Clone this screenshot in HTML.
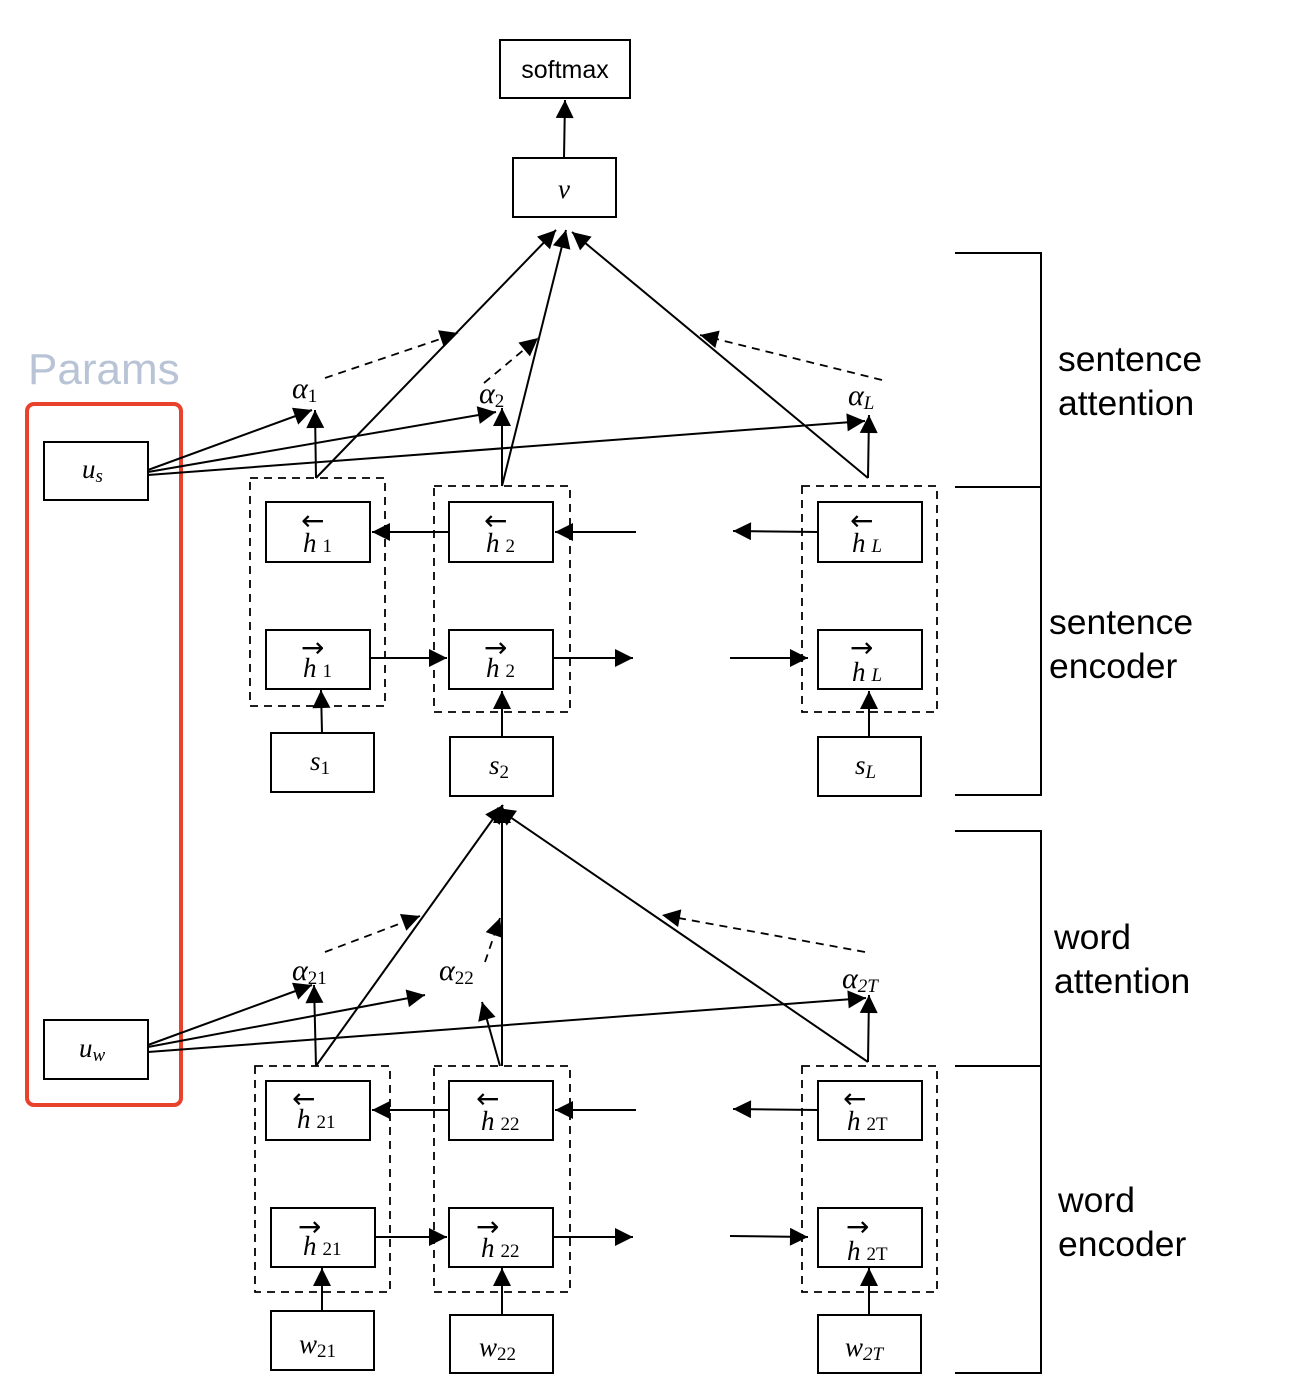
<!DOCTYPE html>
<html><head><meta charset="utf-8"><style>
body{margin:0;background:#fff}
svg{display:block}
.m{font-family:"Liberation Serif",serif;font-style:italic;font-size:27px}
.a{font-family:"Liberation Serif",serif;font-style:italic;font-size:30px}
.s{font-family:"Liberation Serif",serif;font-style:normal;font-size:19px}
.si{font-family:"Liberation Serif",serif;font-style:italic;font-size:19px}
.l{font-family:"Liberation Sans",sans-serif;font-size:35.5px}
</style></head><body>
<svg width="1302" height="1400" viewBox="0 0 1302 1400" xmlns="http://www.w3.org/2000/svg">
<defs><marker id="b" viewBox="0 0 10 10" refX="10" refY="5" markerWidth="20" markerHeight="18" markerUnits="userSpaceOnUse" orient="auto"><path d="M0,0 L10,5 L0,10 z" fill="#000"/></marker></defs>
<g fill="none" stroke="#000" stroke-width="2">
<rect x="500" y="40" width="130" height="58"/>
<rect x="513" y="158" width="103" height="59"/>
<rect x="266" y="502" width="104" height="60"/><rect x="266" y="630" width="104" height="59"/>
<rect x="449" y="502" width="104" height="60"/><rect x="449" y="630" width="104" height="59"/>
<rect x="818" y="502" width="104" height="60"/><rect x="818" y="630" width="104" height="59"/>
<rect x="271" y="733" width="103" height="59"/><rect x="450" y="737" width="103" height="59"/><rect x="818" y="737" width="103" height="59"/>
<rect x="44" y="442" width="104" height="58"/><rect x="44" y="1020" width="104" height="59"/>
<rect x="266" y="1081" width="104" height="59"/><rect x="271" y="1208" width="104" height="59"/>
<rect x="449" y="1081" width="104" height="59"/><rect x="449" y="1208" width="104" height="59"/>
<rect x="818" y="1081" width="104" height="59"/><rect x="818" y="1208" width="104" height="59"/>
<rect x="271" y="1311" width="103" height="59"/><rect x="450" y="1315" width="103" height="58"/><rect x="818" y="1315" width="103" height="58"/>
</g>
<g fill="none" stroke="#000" stroke-width="1.8" stroke-dasharray="8,6">
<rect x="250" y="478" width="135" height="228"/><rect x="434" y="486" width="136" height="226"/><rect x="802" y="486" width="135" height="226"/>
<rect x="255" y="1066" width="135" height="226"/><rect x="434" y="1066" width="136" height="226"/><rect x="802" y="1066" width="135" height="226"/>
<line x1="325" y1="378" x2="458" y2="333" marker-end="url(#b)"/>
<line x1="484" y1="383" x2="538" y2="338" marker-end="url(#b)"/>
<line x1="882" y1="380" x2="700" y2="335" marker-end="url(#b)"/>
<line x1="325" y1="952" x2="420" y2="916" marker-end="url(#b)"/>
<line x1="485" y1="962" x2="500" y2="918" marker-end="url(#b)"/>
<line x1="865" y1="952" x2="662" y2="915" marker-end="url(#b)"/>
</g>
<rect x="27" y="404" width="154" height="701" rx="7" fill="none" stroke="#e8412c" stroke-width="4"/>
<g stroke="#000" stroke-width="2" fill="none">
<line x1="564" y1="158" x2="565" y2="100" marker-end="url(#b)"/>
<line x1="316" y1="478" x2="556" y2="230" marker-end="url(#b)"/>
<line x1="502" y1="486" x2="566" y2="230" marker-end="url(#b)"/>
<line x1="868" y1="478" x2="572" y2="232" marker-end="url(#b)"/>
<line x1="316" y1="478" x2="315" y2="410" marker-end="url(#b)"/>
<line x1="502" y1="486" x2="502" y2="408" marker-end="url(#b)"/>
<line x1="868" y1="478" x2="869" y2="415" marker-end="url(#b)"/>
<line x1="148" y1="470" x2="312" y2="410" marker-end="url(#b)"/>
<line x1="148" y1="472" x2="496" y2="412" marker-end="url(#b)"/>
<line x1="148" y1="475" x2="865" y2="421" marker-end="url(#b)"/>
<line x1="449" y1="532" x2="372" y2="532" marker-end="url(#b)"/>
<line x1="636" y1="532" x2="555" y2="532" marker-end="url(#b)"/>
<line x1="818" y1="532" x2="733" y2="531" marker-end="url(#b)"/>
<line x1="370" y1="658" x2="447" y2="658" marker-end="url(#b)"/>
<line x1="553" y1="658" x2="633" y2="658" marker-end="url(#b)"/>
<line x1="730" y1="658" x2="808" y2="658" marker-end="url(#b)"/>
<line x1="322" y1="733" x2="321" y2="690" marker-end="url(#b)"/>
<line x1="502" y1="737" x2="502" y2="691" marker-end="url(#b)"/>
<line x1="869" y1="737" x2="869" y2="691" marker-end="url(#b)"/>
<line x1="316" y1="1066" x2="503" y2="805" marker-end="url(#b)"/>
<line x1="502" y1="1066" x2="502" y2="805" marker-end="url(#b)"/>
<line x1="868" y1="1062" x2="497" y2="808" marker-end="url(#b)"/>
<line x1="316" y1="1066" x2="314" y2="985" marker-end="url(#b)"/>
<line x1="500" y1="1066" x2="482" y2="1002" marker-end="url(#b)"/>
<line x1="868" y1="1062" x2="869" y2="995" marker-end="url(#b)"/>
<line x1="148" y1="1045" x2="312" y2="985" marker-end="url(#b)"/>
<line x1="148" y1="1047" x2="425" y2="995" marker-end="url(#b)"/>
<line x1="148" y1="1052" x2="866" y2="998" marker-end="url(#b)"/>
<line x1="449" y1="1110" x2="372" y2="1110" marker-end="url(#b)"/>
<line x1="636" y1="1110" x2="555" y2="1110" marker-end="url(#b)"/>
<line x1="818" y1="1110" x2="733" y2="1109" marker-end="url(#b)"/>
<line x1="375" y1="1237" x2="447" y2="1237" marker-end="url(#b)"/>
<line x1="553" y1="1237" x2="633" y2="1237" marker-end="url(#b)"/>
<line x1="730" y1="1236" x2="808" y2="1237" marker-end="url(#b)"/>
<line x1="322" y1="1311" x2="322" y2="1268" marker-end="url(#b)"/>
<line x1="502" y1="1315" x2="502" y2="1268" marker-end="url(#b)"/>
<line x1="869" y1="1315" x2="869" y2="1268" marker-end="url(#b)"/>
<polyline points="955,253 1041,253 1041,795 955,795"/><line x1="955" y1="487" x2="1041" y2="487"/>
<polyline points="955,831 1041,831 1041,1373 955,1373"/><line x1="955" y1="1066" x2="1041" y2="1066"/>
</g>
<text x="565" y="78" text-anchor="middle" font-family="Liberation Sans,sans-serif" font-size="25">softmax</text>
<text x="564" y="198" text-anchor="middle" class="m">v</text>
<text x="28" y="384" font-family="Liberation Sans,sans-serif" font-size="44" fill="#b8c4d6">Params</text>
<g class="l"><text x="1058" y="371">sentence</text><text x="1058" y="415">attention</text>
<text x="1049" y="634">sentence</text><text x="1049" y="678">encoder</text>
<text x="1054" y="949">word</text><text x="1054" y="993">attention</text>
<text x="1058" y="1212">word</text><text x="1058" y="1256">encoder</text></g>
<g>
<text x="82" y="478" class="m">u<tspan class="si" dy="4">s</tspan></text>
<text x="79" y="1057" class="m">u<tspan class="si" dy="4">w</tspan></text>
<text x="292" y="398" class="a">α<tspan class="s" dy="4">1</tspan></text>
<text x="479" y="403" class="a">α<tspan class="s" dy="4">2</tspan></text>
<text x="848" y="405" class="a">α<tspan class="si" dy="4">L</tspan></text>
<text x="292" y="980" class="a">α<tspan class="s" dy="4">21</tspan></text>
<text x="439" y="980" class="a">α<tspan class="s" dy="4">22</tspan></text>
<text x="842" y="988" class="a">α<tspan class="si" dy="4">2T</tspan></text>
<text x="310" y="770" class="m">s<tspan class="s" dy="4">1</tspan></text>
<text x="489" y="774" class="m">s<tspan class="s" dy="4">2</tspan></text>
<text x="855" y="774" class="m">s<tspan class="si" dy="4">L</tspan></text>
<text x="299" y="1353" class="m">w<tspan class="s" dy="4">21</tspan></text>
<text x="479" y="1356" class="m">w<tspan class="s" dy="4">22</tspan></text>
<text x="845" y="1356" class="m">w<tspan class="si" dy="4">2T</tspan></text>
</g>
<g font-family="DejaVu Sans,sans-serif" font-size="28">
<text x="301" y="530">←</text><text x="484" y="530">←</text><text x="850" y="530">←</text>
<text x="301" y="657">→</text><text x="484" y="657">→</text><text x="850" y="657">→</text>
<text x="292" y="1108">←</text><text x="476" y="1108">←</text><text x="843" y="1108">←</text>
<text x="298" y="1236">→</text><text x="476" y="1236">→</text><text x="846" y="1236">→</text>
</g>
<g>
<text x="303" y="552" class="m">h<tspan class="s" dx="6">1</tspan></text>
<text x="486" y="552" class="m">h<tspan class="s" dx="6">2</tspan></text>
<text x="852" y="552" class="m">h<tspan class="si" dx="6">L</tspan></text>
<text x="303" y="677" class="m">h<tspan class="s" dx="6">1</tspan></text>
<text x="486" y="677" class="m">h<tspan class="s" dx="6">2</tspan></text>
<text x="852" y="681" class="m">h<tspan class="si" dx="6">L</tspan></text>
<text x="297" y="1128" class="m">h<tspan class="s" dx="6">21</tspan></text>
<text x="481" y="1130" class="m">h<tspan class="s" dx="6">22</tspan></text>
<text x="847" y="1130" class="m">h<tspan class="s" dx="6">2T</tspan></text>
<text x="303" y="1255" class="m">h<tspan class="s" dx="6">21</tspan></text>
<text x="481" y="1257" class="m">h<tspan class="s" dx="6">22</tspan></text>
<text x="847" y="1260" class="m">h<tspan class="s" dx="6">2T</tspan></text>
</g>
</svg>
</body></html>
